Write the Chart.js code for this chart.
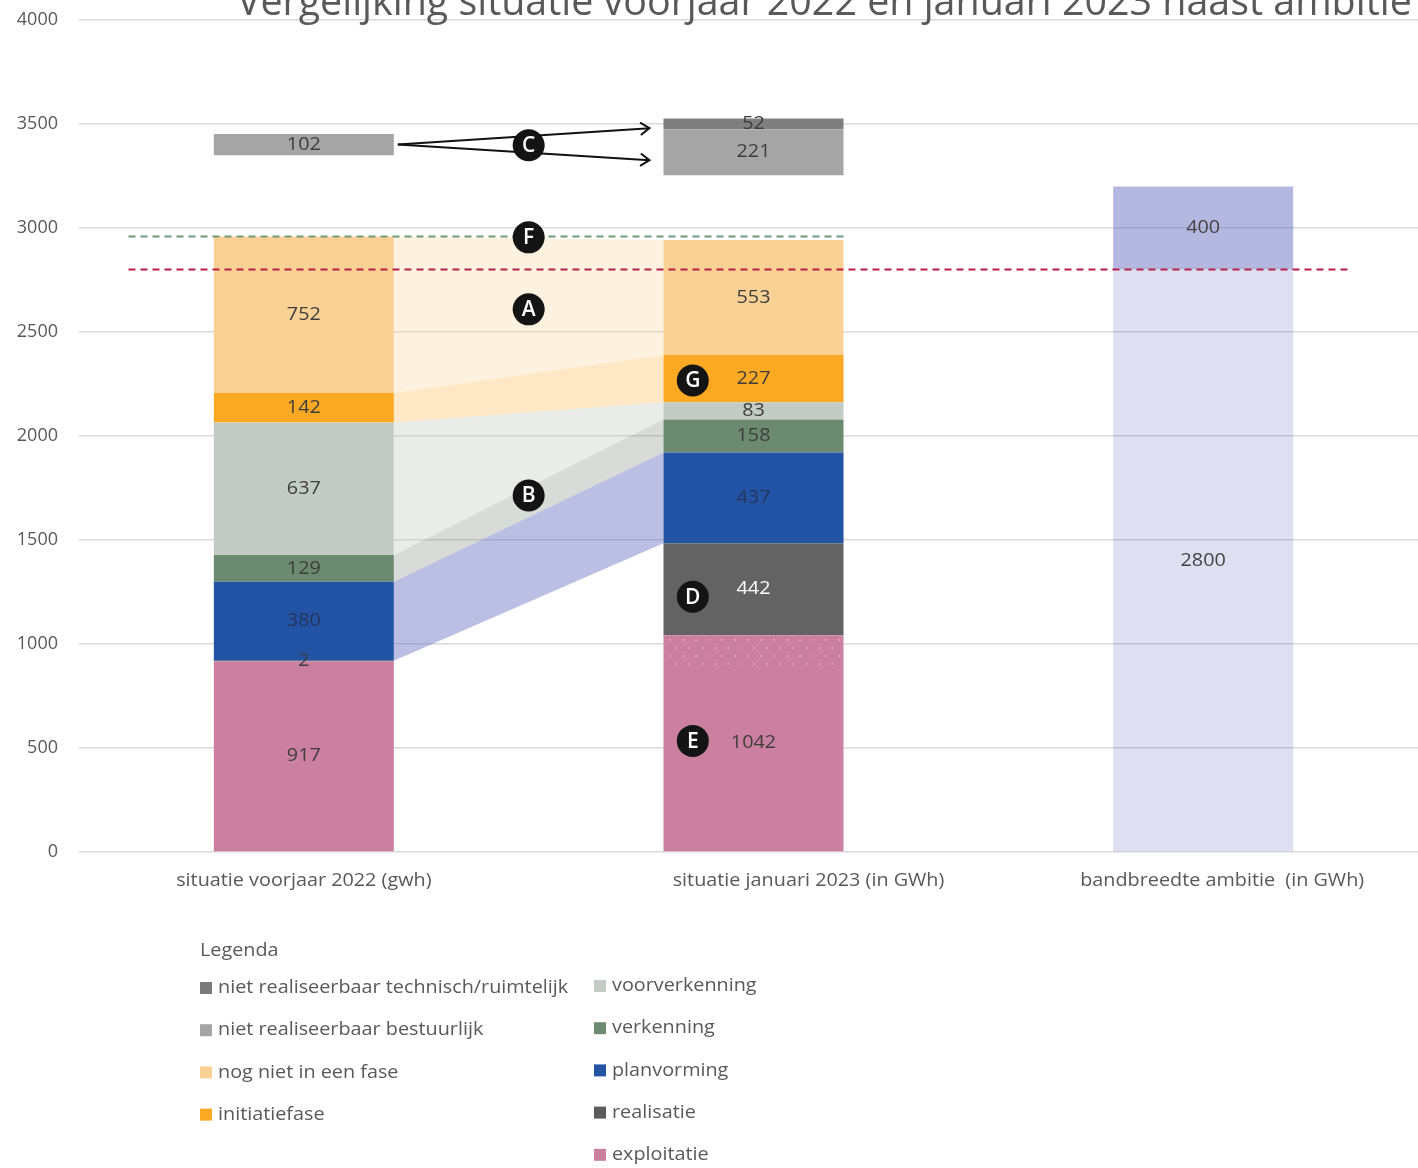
<!DOCTYPE html>
<html>
<head>
<meta charset="utf-8">
<script src="https://cdn.jsdelivr.net/npm/chart.js@4.4.1/dist/chart.umd.min.js"></script>
<style>
html,body{margin:0;padding:0;overflow:hidden;background:#fff;}
#wrap{position:relative;width:1428px;height:1168px;}
canvas{display:block;}
</style>
</head>
<body>
<div id="wrap"><canvas id="c" width="1428" height="1168"></canvas></div>
<script>
// ---------- DATA ----------
const title = 'Vergelijking situatie voorjaar 2022 en januari 2023 naast ambitie';
const categories = ['situatie voorjaar 2022 (gwh)', 'situatie januari 2023 (in GWh)', 'bandbreedte ambitie  (in GWh)'];
const exploitatie = [917, 1042, null];
const realisatie = [2, 442, null];
const planvorming = [380, 437, null];
const verkenning = [129, 158, null];
const voorverkenning = [637, 83, null];
const initiatiefase = [142, 227, null];
const nogNietInFase = [752, 553, null];
const tussenruimte = [391, 312, null];          // invisible gap below the "niet realiseerbaar" blocks
const nietRealiseerbaarBestuurlijk = [102, 221, null];
const nietRealiseerbaarTechnisch = [null, 52, null];
const ambitieOndergrens = [null, null, 2800];
const ambitieBandbreedte = [null, null, 400];
const yTicks = [0, 500, 1000, 1500, 2000, 2500, 3000, 3500, 4000];
const ambitieLijn = 2800;
const pijlDoelen = [3480, 3326];
const markerLetters = ['C', 'F', 'A', 'B', 'G', 'D', 'E'];
const markerX = [0.5, 0.5, 0.5, 0.5, 0.865, 0.865, 0.865];
const markerY = [3398, 2955, 2609, 1714, 2267, 1227, 534];
const legendTitle = 'Legenda';

// ---------- STYLE ----------
const FONT = "'Open Sans', 'Noto Sans', sans-serif";
const TXT = '#595959';
const LBL = '#3d3d3d';

const ds = (label, data, color, labelColor, extra) => Object.assign({
  label, data, backgroundColor: color, labelColor: labelColor || LBL,
  stack: 's', barPercentage: 0.4003, categoryPercentage: 1, borderWidth: 0
}, extra || {});

const datasets = [
  ds('exploitatie', exploitatie, '#cc80a0'),
  ds('realisatie', realisatie, '#636363', [LBL, '#ffffff']),
  ds('planvorming', planvorming, '#2253a4', 'rgba(40,40,60,0.7)'),
  ds('verkenning', verkenning, '#6b8a70'),
  ds('voorverkenning', voorverkenning, '#c3ccc4'),
  ds('initiatiefase', initiatiefase, '#fba922'),
  ds('nog niet in een fase', nogNietInFase, '#f9d194'),
  ds('_gap', tussenruimte, 'rgba(0,0,0,0)', null, {noLabel: true}),
  ds('niet realiseerbaar bestuurlijk', nietRealiseerbaarBestuurlijk, '#a5a5a5'),
  ds('niet realiseerbaar technisch/ruimtelijk', nietRealiseerbaarTechnisch, '#7f7f7f'),
  ds('ambitie', ambitieOndergrens, 'rgba(105,113,193,0.22)', '#444'),
  ds('ambitie bandbreedte', ambitieBandbreedte, 'rgba(105,113,193,0.5)', '#444'),
];

const legendCol1 = ['niet realiseerbaar technisch/ruimtelijk', 'niet realiseerbaar bestuurlijk', 'nog niet in een fase', 'initiatiefase'];
const legendCol2 = ['voorverkenning', 'verkenning', 'planvorming', 'realisatie', 'exploitatie'];
const legendColorOverride = {'realisatie': '#5a5a5a', 'niet realiseerbaar technisch/ruimtelijk': '#7a7a7a'};

const flows = [
  {label: 'planvorming', color: 'rgba(105,113,193,0.45)'},
  {label: 'verkenning', color: 'rgba(125,138,125,0.3)'},
  {label: 'voorverkenning', color: 'rgba(190,198,190,0.33)'},
  {label: 'initiatiefase', color: 'rgba(251,170,40,0.27)'},
  {label: 'nog niet in een fase', color: 'rgba(249,209,148,0.3)'},
];

function metaOf(chart, label) {
  const i = chart.data.datasets.findIndex(d => d.label === label);
  return chart.getDatasetMeta(i);
}

// draw text slightly widened, like the reference rendering
function wideText(ctx, s, x, y, sx) {
  ctx.save();
  ctx.translate(x, y);
  ctx.scale(sx, 1);
  ctx.fillText(s, 0, 0);
  ctx.restore();
}

const flowPlugin = {
  id: 'flows',
  beforeDatasetsDraw(chart) {
    const ctx = chart.ctx;
    ctx.save();
    flows.forEach(f => {
      const m = metaOf(chart, f.label);
      const a = m.data[0], b = m.data[1];
      const xa = a.x + a.width / 2, xb = b.x - b.width / 2;
      ctx.beginPath();
      ctx.moveTo(xa, a.y);
      ctx.lineTo(xb, b.y);
      ctx.lineTo(xb, b.base);
      ctx.lineTo(xa, a.base);
      ctx.closePath();
      ctx.fillStyle = f.color;
      ctx.fill();
    });
    ctx.restore();
  }
};

const overlayPlugin = {
  id: 'overlay',
  afterDatasetsDraw(chart) {
    const ctx = chart.ctx, y = chart.scales.y, x = chart.scales.x;
    ctx.save();
    // dotted part of exploitatie (growth since 2022)
    const e = metaOf(chart, 'exploitatie').data[1];
    const yTop = y.getPixelForValue(exploitatie[1]);
    const yBot = y.getPixelForValue(exploitatie[0]);
    ctx.fillStyle = 'rgba(255,255,255,0.45)';
    let row = 0;
    for (let yy = yTop + 4; yy < yBot + 6; yy += 8, row++) {
      for (let xx = e.x - e.width / 2 + 6 + (row % 2) * 6; xx < e.x + e.width / 2 - 2; xx += 13) {
        ctx.fillRect(xx, yy, 1.5, 1.5);
      }
    }
    // dashed lines
    const bar1 = metaOf(chart, 'nog niet in een fase').data[0];
    const bar2 = metaOf(chart, 'nog niet in een fase').data[1];
    ctx.lineWidth = 2;
    ctx.setLineDash([7, 5]);
    ctx.strokeStyle = '#6f9a78';
    ctx.beginPath();
    ctx.moveTo(x.getPixelForValue(-0.39), bar1.y);
    ctx.lineTo(bar2.x + bar2.width / 2, bar1.y);
    ctx.stroke();
    ctx.strokeStyle = '#b8204c';
    const ry = y.getPixelForValue(ambitieLijn);
    ctx.beginPath();
    ctx.moveTo(x.getPixelForValue(-0.39), ry);
    ctx.lineTo(x.getPixelForValue(2.33), ry);
    ctx.stroke();
    ctx.setLineDash([]);

    // data labels
    ctx.font = '18px ' + FONT;
    ctx.textAlign = 'center';
    ctx.textBaseline = 'middle';
    chart.data.datasets.forEach((d, i) => {
      if (d.noLabel) return;
      const m = chart.getDatasetMeta(i);
      m.data.forEach((el, j) => {
        const v = d.data[j];
        if (v === null || v === undefined) return;
        ctx.fillStyle = Array.isArray(d.labelColor) ? d.labelColor[j] : d.labelColor;
        wideText(ctx, String(v), el.x, (el.y + el.base) / 2, 1.1);
      });
    });

    // arrows C
    const src = metaOf(chart, 'niet realiseerbaar bestuurlijk').data[0];
    const dst = metaOf(chart, 'niet realiseerbaar bestuurlijk').data[1];
    const sx = src.x + src.width / 2 + 4, sy = (src.y + src.base) / 2;
    const tx = dst.x - dst.width / 2 - 14;
    ctx.strokeStyle = '#111';
    ctx.lineWidth = 2;
    pijlDoelen.forEach(v => {
      const ty = y.getPixelForValue(v);
      ctx.beginPath();
      ctx.moveTo(sx, sy);
      ctx.lineTo(tx, ty);
      ctx.stroke();
      const ang = Math.atan2(ty - sy, tx - sx);
      ctx.beginPath();
      ctx.moveTo(tx - 11 * Math.cos(ang - 0.6), ty - 11 * Math.sin(ang - 0.6));
      ctx.lineTo(tx, ty);
      ctx.lineTo(tx - 11 * Math.cos(ang + 0.6), ty - 11 * Math.sin(ang + 0.6));
      ctx.stroke();
    });

    // letter markers
    markerLetters.forEach((L, i) => {
      const px = x.getPixelForValue(markerX[i]);
      const py = y.getPixelForValue(markerY[i]);
      ctx.beginPath();
      ctx.arc(px, py, 16, 0, Math.PI * 2);
      ctx.fillStyle = '#141414';
      ctx.fill();
      ctx.fillStyle = '#ffffff';
      ctx.font = '600 21px ' + FONT;
      ctx.textAlign = 'center';
      ctx.textBaseline = 'middle';
      ctx.fillText(L, px, py + 1);
    });
    ctx.restore();
  },
  afterDraw(chart) {
    const ctx = chart.ctx, x = chart.scales.x, area = chart.chartArea;
    ctx.save();
    // title (cut off at the top like the reference)
    ctx.fillStyle = TXT;
    ctx.textAlign = 'left';
    ctx.textBaseline = 'alphabetic';
    ctx.font = '34px ' + FONT;
    const w = ctx.measureText(title).width;
    const size = 34 * 1175 / w;
    ctx.font = size.toFixed(2) + 'px ' + FONT;
    ctx.fillText(title, 237, 15);

    // category labels
    const offs = [0, 55, 19];
    ctx.font = '18px ' + FONT;
    ctx.textAlign = 'center';
    ctx.textBaseline = 'middle';
    categories.forEach((c, i) => {
      wideText(ctx, c, x.getPixelForValue(i) + offs[i], area.bottom + 29, 1.1);
    });

    // legend
    const colorOf = lbl => legendColorOverride[lbl] || chart.data.datasets.find(d => d.label === lbl).backgroundColor;
    ctx.textAlign = 'left';
    ctx.font = '18px ' + FONT;
    wideText(ctx, legendTitle, 200, 951, 1.1);
    const drawCol = (items, sx, sy) => {
      items.forEach((lbl, i) => {
        const yy = sy + i * 42.2;
        ctx.fillStyle = colorOf(lbl);
        ctx.fillRect(sx, yy - 6, 12, 12);
        ctx.fillStyle = TXT;
        wideText(ctx, lbl, sx + 18, yy, 1.1);
      });
    };
    drawCol(legendCol1, 200, 988);
    drawCol(legendCol2, 594, 986);
    ctx.restore();
  }
};

new Chart(document.getElementById('c'), {
  type: 'bar',
  data: {labels: categories, datasets},
  options: {
    responsive: false,
    animation: false,
    devicePixelRatio: 1,
    layout: {padding: {top: 20, bottom: 308, left: 0, right: 0}},
    plugins: {legend: {display: false}, tooltip: {enabled: false}, title: {display: false}},
    scales: {
      x: {stacked: true, grid: {display: false}, border: {display: false}, ticks: {display: false}},
      y: {
        stacked: true, min: 0, max: 4000,
        afterBuildTicks(s) { s.ticks = yTicks.map(v => ({value: v})); },
        ticks: {padding: 21, color: TXT, font: {family: FONT, size: 18}, callback: v => String(v)},
        grid: {color: '#d9d9d9', drawTicks: false, lineWidth: 1.5},
        border: {display: false},
        afterFit(s) { s.width = 79; s.paddingTop = 0; s.paddingBottom = 0; }
      }
    }
  },
  plugins: [flowPlugin, overlayPlugin]
});
</script>
</body>
</html>
